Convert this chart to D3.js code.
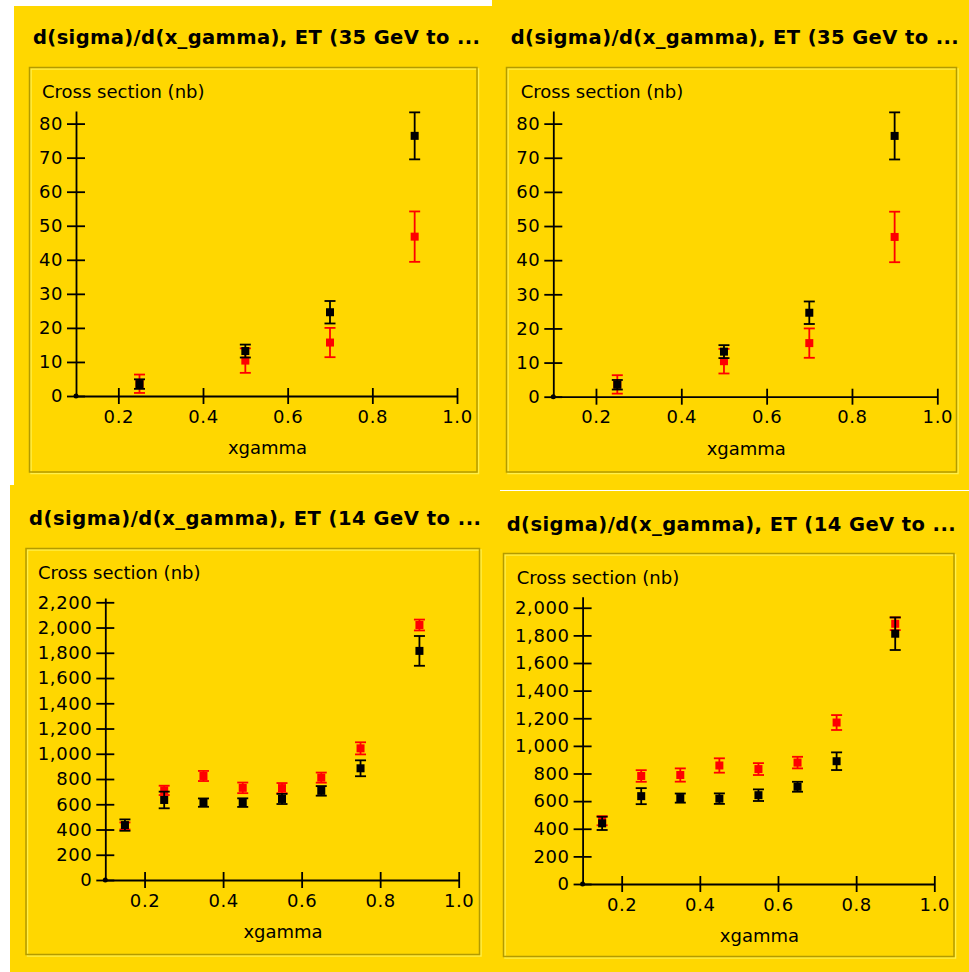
<!DOCTYPE html>
<html>
<head>
<meta charset="utf-8">
<script src="https://cdn.jsdelivr.net/npm/d3@7"></script>
<style>
  body { margin: 0; background: #fff; }
  svg { display: block; }
  text { font-family: "DejaVu Sans", sans-serif; fill: #000; }
</style>
</head>
<body>
<svg id="chart" width="969" height="972"></svg>
<script>
// data
const xTicks = [0.2, 0.4, 0.6, 0.8, 1.0];

// ET 35 GeV to ... (shown twice, top row)
const xg35 = [0.25, 0.5, 0.7, 0.9];
const black35 = [3.5, 13.2, 24.6, 76.4];
const blackErr35 = [1.4, 1.9, 3.3, 6.9];
const red35 = [3.6, 10.4, 15.7, 46.8];
const redErr35 = [2.7, 3.6, 4.3, 7.4];
const yTicks35 = [0, 10, 20, 30, 40, 50, 60, 70, 80];

// ET 14 GeV to ... (bottom row, two versions)
const xg14 = [0.15, 0.25, 0.35, 0.45, 0.55, 0.65, 0.75, 0.9];
const black14a = [435, 634, 613, 613, 642, 706, 885, 1815];
const blackErr14a = [45, 66, 33, 34, 40, 38, 63, 118];
const red14a = [428, 710, 824, 730, 728, 811, 1043, 2020];
const redErr14a = [28, 37, 40, 42, 40, 40, 48, 43];
const yTicks14a = [0, 200, 400, 600, 800, 1000, 1200, 1400, 1600, 1800, 2000, 2200];

const black14b = [439, 636, 622, 618, 643, 704, 889, 1812];
const blackErr14b = [48, 58, 33, 38, 42, 36, 64, 118];
const red14b = [458, 782, 789, 858, 832, 879, 1169, 1884];
const redErr14b = [33, 42, 48, 52, 43, 42, 54, 46];
const yTicks14b = [0, 200, 400, 600, 800, 1000, 1200, 1400, 1600, 1800, 2000];

const title35 = 'd(sigma)/d(x_gamma), ET (35 GeV to ...';
const title14 = 'd(sigma)/d(x_gamma), ET (14 GeV to ...';

const svg = d3.select('#chart');

const panels = [
  { bg: [14, 6, 478, 484], title: title35, tx: 33, ty: 44, tw: 447,
    frame: [29.5, 67.5, 447.5, 404.5], lx: 42, ly: 98,
    x0: 76, x1: 457, y0: 396, yTop: 111, yMax: 83.7, yTicks: yTicks35, fmt: d3.format('d'),
    xg: xg35, black: black35, blackErr: blackErr35, red: red35, redErr: redErr35 },
  { bg: [492, 0, 477, 490], title: title35, tx: 510.7, ty: 44, tw: 448,
    frame: [506.5, 67.5, 450, 404.5], lx: 520.7, ly: 98,
    x0: 553.3, x1: 937.3, y0: 396.7, yTop: 111, yMax: 83.7, yTicks: yTicks35, fmt: d3.format('d'),
    xg: xg35, black: black35, blackErr: blackErr35, red: red35, redErr: redErr35 },
  { bg: [10, 485, 490, 487], title: title14, tx: 29, ty: 524.5, tw: 452,
    frame: [26, 548.5, 453.5, 406], lx: 38, ly: 579,
    x0: 105.3, x1: 458.7, y0: 880, yTop: 598, yMax: 2234, yTicks: yTicks14a, fmt: d3.format(','),
    xg: xg14, black: black14a, blackErr: blackErr14a, red: red14a, redErr: redErr14a },
  { bg: [499, 491, 470, 481], title: title14, tx: 506.7, ty: 530.5, tw: 449,
    frame: [503.5, 553.5, 450.5, 403], lx: 516.7, ly: 584,
    x0: 582.6, x1: 934.3, y0: 884, yTop: 596.7, yMax: 2080, yTicks: yTicks14b, fmt: d3.format(','),
    xg: xg14, black: black14b, blackErr: blackErr14b, red: red14b, redErr: redErr14b }
];

function drawPanel(p) {
  const g = svg.append('g');

  g.append('rect')
    .attr('x', p.bg[0]).attr('y', p.bg[1])
    .attr('width', p.bg[2]).attr('height', p.bg[3])
    .attr('fill', '#ffd700');

  g.append('text')
    .attr('x', p.tx).attr('y', p.ty)
    .attr('font-size', 19.5).attr('font-weight', 'bold')
    .attr('textLength', p.tw).attr('lengthAdjust', 'spacing')
    .text(p.title);

  // etched border
  const [fx, fy, fw, fh] = p.frame;
  g.append('rect')
    .attr('x', fx + 1.5).attr('y', fy + 1.5).attr('width', fw).attr('height', fh)
    .attr('fill', 'none').attr('stroke', '#fff04a').attr('stroke-width', 1.5);
  g.append('rect')
    .attr('x', fx).attr('y', fy).attr('width', fw).attr('height', fh)
    .attr('fill', 'none').attr('stroke', '#b39b00').attr('stroke-width', 1.5);

  g.append('text')
    .attr('x', p.lx).attr('y', p.ly)
    .attr('font-size', 18)
    .text('Cross section (nb)');

  const x = d3.scaleLinear().domain([0.1, 1.0]).range([p.x0, p.x1]);
  const y = d3.scaleLinear().domain([0, p.yMax]).range([p.y0, p.yTop]);

  // y axis
  const ya = g.append('g').attr('transform', `translate(${p.x0},0)`)
    .call(d3.axisLeft(y).tickValues(p.yTicks).tickFormat(p.fmt).tickSizeInner(9).tickSizeOuter(0).tickPadding(4));
  ya.select('.domain').attr('stroke-width', 1.8);
  ya.selectAll('.tick line').attr('x2', 9).attr('x1', -9).attr('stroke-width', 1.8);
  ya.selectAll('.tick text').attr('font-size', 18).attr('letter-spacing', 0.6)
    .attr('font-family', '"DejaVu Sans", sans-serif');

  // x axis
  const xa = g.append('g').attr('transform', `translate(0,${p.y0})`)
    .call(d3.axisBottom(x).tickValues(xTicks).tickFormat(d3.format('.1f')).tickSizeInner(8).tickSizeOuter(0).tickPadding(6));
  xa.select('.domain').attr('stroke-width', 1.8);
  xa.selectAll('.tick line').attr('y1', -8).attr('y2', 8).attr('stroke-width', 1.8);
  xa.selectAll('.tick text').attr('font-size', 18).attr('letter-spacing', 0.6)
    .attr('font-family', '"DejaVu Sans", sans-serif');

  g.append('text')
    .attr('x', (p.x0 + p.x1) / 2 + 1).attr('y', p.y0 + 58)
    .attr('font-size', 18).attr('text-anchor', 'middle')
    .text('xgamma');

  g.append('circle').attr('cx', x(0.1)).attr('cy', y(0)).attr('r', 2.5).attr('fill', '#000');

  const series = [
    { vals: p.red, errs: p.redErr, color: '#ff0000' },
    { vals: p.black, errs: p.blackErr, color: '#000000' }
  ];
  series.forEach(s => {
    const pts = g.append('g').selectAll('g')
      .data(p.xg.map((xv, i) => ({ x: xv, v: s.vals[i], e: s.errs[i] })))
      .join('g');
    pts.append('line')
      .attr('x1', d => x(d.x)).attr('x2', d => x(d.x))
      .attr('y1', d => y(d.v - d.e)).attr('y2', d => y(d.v + d.e))
      .attr('stroke', s.color).attr('stroke-width', 1.8);
    pts.append('line')
      .attr('x1', d => x(d.x) - 5.5).attr('x2', d => x(d.x) + 5.5)
      .attr('y1', d => y(d.v + d.e)).attr('y2', d => y(d.v + d.e))
      .attr('stroke', s.color).attr('stroke-width', 1.8);
    pts.append('line')
      .attr('x1', d => x(d.x) - 5.5).attr('x2', d => x(d.x) + 5.5)
      .attr('y1', d => y(d.v - d.e)).attr('y2', d => y(d.v - d.e))
      .attr('stroke', s.color).attr('stroke-width', 1.8);
    pts.append('rect')
      .attr('x', d => x(d.x) - 4).attr('y', d => y(d.v) - 4)
      .attr('width', 8).attr('height', 8)
      .attr('fill', s.color);
  });
}

panels.forEach(drawPanel);
</script>
</body>
</html>
